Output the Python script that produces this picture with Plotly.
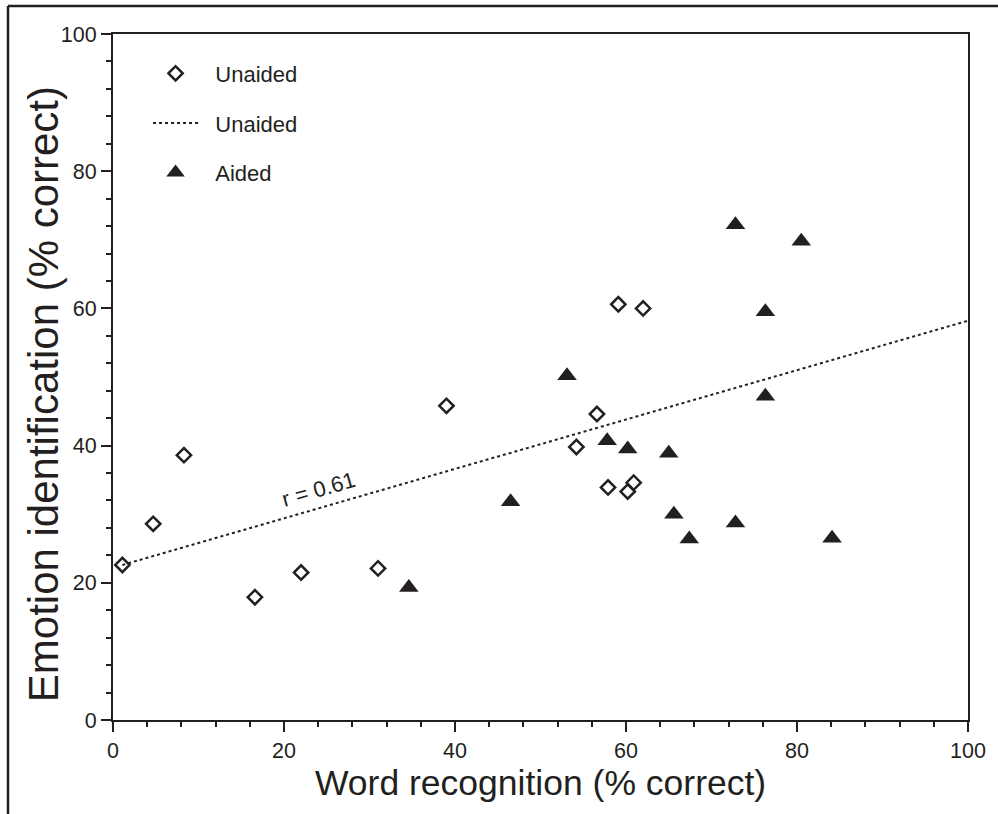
import plotly.graph_objects as go

# Unaided (open diamonds)
unaided_x = [1.1, 4.7, 8.3, 16.6, 22.0, 31.0, 39.0, 54.2, 56.6, 57.9, 59.1, 60.2, 60.9, 62.0]
unaided_y = [22.6, 28.6, 38.6, 17.9, 21.5, 22.1, 45.8, 39.8, 44.6, 33.9, 60.6, 33.3, 34.6, 60.0]

# Aided (filled triangles)
aided_x = [34.6, 46.5, 53.1, 57.8, 60.2, 65.0, 65.6, 67.4, 72.8, 72.8, 76.3, 76.3, 80.5, 84.1]
aided_y = [19.3, 31.8, 50.2, 40.7, 39.5, 38.9, 30.0, 26.4, 28.7, 72.2, 59.5, 47.2, 69.8, 26.5]

# Regression line for unaided listeners
fit_x = [1.1, 100.0]
fit_y = [22.6, 58.2]
r_label = "r = 0.61"
r_pos = (24.0, 33.6)

x_ticks = [0, 20, 40, 60, 80, 100]
y_ticks = [0, 20, 40, 60, 80, 100]
x_title = "Word recognition (% correct)"
y_title = "Emotion identification (% correct)"

INK = "#231f20"
FONT = "Liberation Sans, Arial, Helvetica, sans-serif"
PAD = "\u00a0\u00a0"

fig = go.Figure()
fig.add_trace(go.Scatter(
    x=unaided_x, y=unaided_y, mode="markers", name=PAD + "Unaided",
    legendgroup="a",
    marker=dict(symbol="diamond-open", size=11, color=INK, line=dict(width=2.5, color=INK)),
))
fig.add_trace(go.Scatter(
    x=fit_x, y=fit_y, mode="lines", name=PAD + "Unaided",
    legendgroup="b",
    line=dict(color=INK, width=2, dash="dot"),
))
fig.add_trace(go.Scatter(
    x=aided_x, y=aided_y, mode="markers", name=PAD + "Aided",
    legendgroup="c",
    marker=dict(symbol="triangle-up", size=17, color=INK, line=dict(width=0)),
))

fig.add_annotation(
    x=r_pos[0], y=r_pos[1], text=r_label, showarrow=False,
    textangle=-16, font=dict(size=22, color=INK, family=FONT),
)
# axis titles
fig.add_annotation(
    xref="paper", yref="paper", x=0.5, y=-0.092, xanchor="center", yanchor="middle",
    text=x_title, showarrow=False, borderpad=0,
    font=dict(size=35.5, color=INK, family=FONT),
)
fig.add_annotation(
    xref="paper", yref="paper", x=-0.0818, y=0.475, xanchor="center", yanchor="middle",
    text=y_title, textangle=-90, showarrow=False, borderpad=0,
    font=dict(size=42, color=INK, family=FONT),
)

axis_common = dict(
    range=[0, 100], showgrid=False, zeroline=False,
    showline=True, linecolor=INK, linewidth=2, mirror=True,
    ticks="outside", ticklen=10, tickwidth=2, tickcolor=INK,
    tickfont=dict(size=21.5, color=INK, family=FONT),
    minor=dict(dtick=4, ticks="outside", ticklen=5, tickwidth=1.5, tickcolor=INK),
)

fig.update_layout(
    width=998, height=814,
    margin=dict(l=113, r=30, t=34, b=94),
    paper_bgcolor="white", plot_bgcolor="white",
    font=dict(family=FONT, color=INK),
    xaxis=dict(tickvals=x_ticks, **axis_common),
    yaxis=dict(tickvals=y_ticks, **axis_common),
    legend=dict(x=0.041, y=0.973, xanchor="left", yanchor="top",
                font=dict(size=22, color=INK, family=FONT),
                tracegroupgap=18, itemwidth=45, bgcolor="rgba(0,0,0,0)"),
    showlegend=True,
    shapes=[
        dict(type="line", xref="paper", yref="paper", x0=-0.1228, x1=1.04, y0=1.0408, y1=1.0408,
             line=dict(color=INK, width=2.5)),
        dict(type="line", xref="paper", yref="paper", x0=-0.1228, x1=-0.1228, y0=-0.15, y1=1.0408,
             line=dict(color=INK, width=2.5)),
    ],
)

fig.write_html("out.html", config={"displayModeBar": False},
               post_script="document.body.style.margin='0px';")
